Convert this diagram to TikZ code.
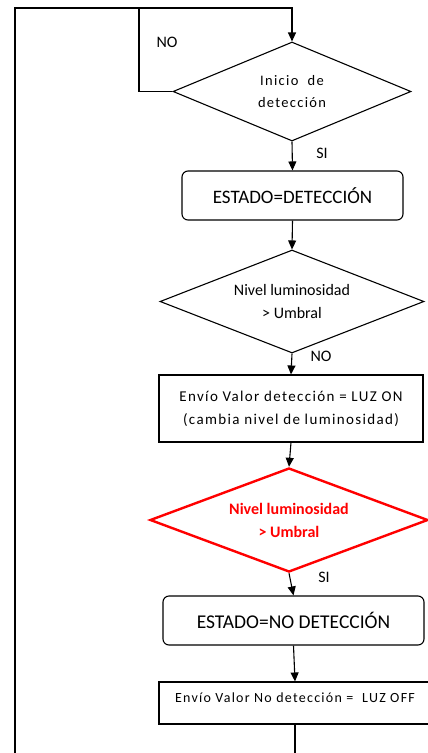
\documentclass[tikz,border=0pt]{standalone}
\usepackage{fontspec}
\setmainfont{Carlito}
\newfontfamily\spacedfont[LetterSpace=9]{Carlito}
\usepackage{tikz}
\usetikzlibrary{shapes.geometric, arrows.meta}

\tikzset{
  decision/.style={diamond, draw, line width=1.1pt, inner sep=0pt, aspect=2.6, align=center},
  process/.style={rectangle, draw, line width=1.1pt, inner sep=0pt, align=center},
  state/.style={rectangle, rounded corners=6pt, draw, line width=1.1pt, inner sep=0pt, align=center},
  flow/.style={-{Triangle[length=9pt,width=8pt]}, line width=1.1pt},
  tag/.style={font=\fontsize{16}{19}\selectfont}
}

\begin{document}
\begin{tikzpicture}[x=1pt, y=-1pt]
		\useasboundingbox (0,0) rectangle (428,753);
		% boxes and decisions
		\node[decision, minimum width=238pt, minimum height=99pt,
			font=\spacedfont\fontsize{14.5}{22}\selectfont] (inicio) at (292,91.5) {Inicio\ \ de\\detección};
		\node[state, minimum width=221pt, minimum height=49pt,
			font=\fontsize{19}{22}\selectfont] (estado1) at (292.5,195.5) {ESTADO=DETECCIÓN};
		\node[decision, minimum width=264pt, minimum height=103pt,
			font=\fontsize{16}{23}\selectfont] (nivel1) at (292,301.5) {Nivel luminosidad\\> Umbral};
		\node[process, minimum width=264pt, minimum height=67pt,
			font=\spacedfont\fontsize{15}{23}\selectfont] (envio1) at (291,408.5) {Envío Valor detección = LUZ ON\\(cambia nivel de luminosidad)};
		\node[decision, draw=red, line width=2.4pt, minimum width=278pt, minimum height=104pt,
			text=red, font=\bfseries\fontsize{16}{23}\selectfont] (nivel2) at (289,520) {Nivel luminosidad\\> Umbral};
		\node[state, minimum width=261pt, minimum height=49pt,
			font=\fontsize{19.5}{22}\selectfont] (estado2) at (293.5,620.5) {ESTADO=NO DETECCIÓN};
		\node[process, minimum width=272pt, minimum height=42pt, text depth=11pt,
			font=\spacedfont\fontsize{14}{20}\selectfont] (envio2) at (295,703) {Envío Valor No detección =\ \ LUZ OFF};
		% loose ends
		\coordinate (top) at (139,8);
		\coordinate (lft) at (15,753);
		\coordinate (bot) at (295,753);
		% connectors
		\draw[flow] (lft) |- (inicio.north |- top) -- (inicio.north);
		\draw[line width=1.1pt] (inicio.west) -| (top);
		\draw[flow] (inicio.south) -- (estado1.north);
		\draw[flow] (estado1.south) -- (nivel1.north);
		\draw[flow] (nivel1.south) -- (envio1.north);
		\draw[flow] (envio1.south) -- (nivel2.north);
		\draw[flow] (nivel2.south) -- (estado2.north);
		\draw[flow] (estado2.south) -- (envio2.north);
		\draw[line width=1.1pt] (envio2.south) -- (bot);
		% answers
		\node[tag] (no1) at (167,42) {NO};
		\node[tag] (si1) at (322,153) {SI};
		\node[tag] (no2) at (321,356) {NO};
		\node[tag] (si2) at (324,577) {SI};
	\end{tikzpicture}
\end{document}
